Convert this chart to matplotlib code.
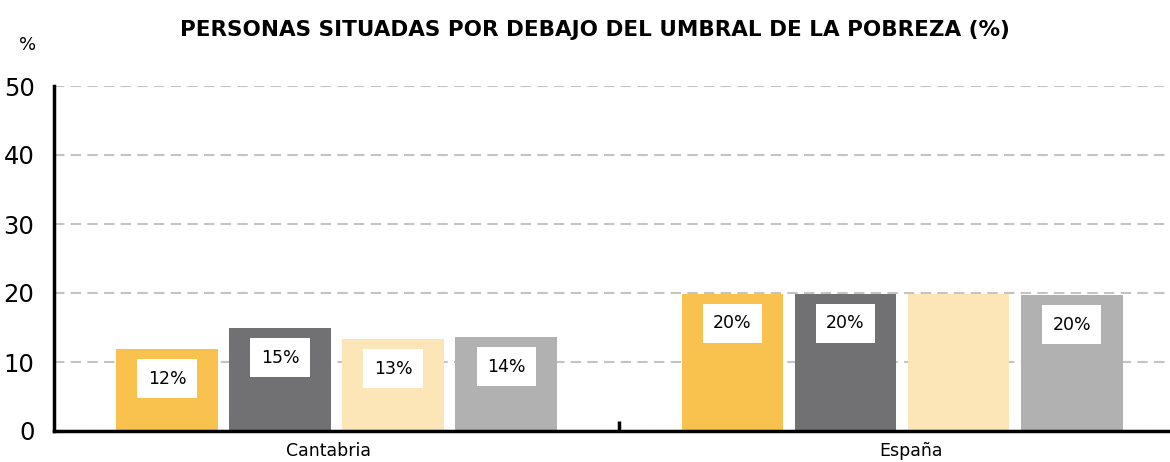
import matplotlib.pyplot as plt
import matplotlib.transforms as mtransforms
import numpy as np

categories = ["Cantabria", "España"]
series_a = [11.9, 19.9]
series_b = [14.9, 19.9]
series_c = [13.3, 19.9]
series_d = [13.6, 19.7]
labels_a = ["12%", "20%"]
labels_b = ["15%", "20%"]
labels_c = ["13%", ""]
labels_d = ["14%", "20%"]

colors = ["#F9C24F", "#717173", "#FCE6B8", "#B1B1B2"]
series = [series_a, series_b, series_c, series_d]
labels = [labels_a, labels_b, labels_c, labels_d]

fig = plt.figure(figsize=(11.7, 4.62), dpi=100)
ax = fig.add_axes([54 / 1170, 31 / 462, (1170 - 54) / 1170, (431 - 86) / 462])

x = np.arange(len(categories))
width = 0.18
offsets = [-0.3, -0.1, 0.1, 0.3]

for vals, labs, col, off in zip(series, labels, colors, offsets):
    ax.bar(x + off, vals, width=width, color=col, zorder=2)
    for xi, v, lab in zip(x, vals, labs):
        if lab:
            ax.text(xi + off, v - 4.3, lab, ha="center", va="center", fontsize=12.5,
                    color="black", zorder=3,
                    bbox=dict(boxstyle="square,pad=0.6", facecolor="white", edgecolor="none"))

ax.set_ylim(0, 50)
ax.set_xlim(-0.5, 1.474)
ax.set_yticks(range(0, 51, 10))
ax.tick_params(axis="y", length=0, labelsize=17.5, pad=14)
ax.yaxis.grid(True, linestyle=(0, (5, 3)), color="#C4C4C4", linewidth=1.5, zorder=0)
ax.set_axisbelow(True)

# divider tick between the two groups
ax.set_xticks([0.5])
ax.set_xticklabels([""])
ax.tick_params(axis="x", direction="in", length=7, width=2.5, color="black")

cat_shift = [-0.015, 0.016]
below = ax.get_xaxis_transform() + mtransforms.ScaledTranslation(0, -29 / 100, fig.dpi_scale_trans)
for xi, cat, s in zip(x, categories, cat_shift):
    ax.text(xi + s, 0, cat, ha="center", va="bottom", fontsize=12.5,
            transform=below, clip_on=False)

for side in ["top", "right"]:
    ax.spines[side].set_visible(False)
ax.spines["left"].set_linewidth(2.5)
ax.spines["bottom"].set_linewidth(2.5)

fig.text(595 / 1170, 1 - 30 / 462, "PERSONAS SITUADAS POR DEBAJO DEL UMBRAL DE LA POBREZA (%)",
         ha="center", va="center", fontsize=15.5, fontweight="bold")
fig.text(28 / 1170, 1 - 45 / 462, "%", ha="center", va="center", fontsize=13)

fig.savefig("out.png", dpi=100)
